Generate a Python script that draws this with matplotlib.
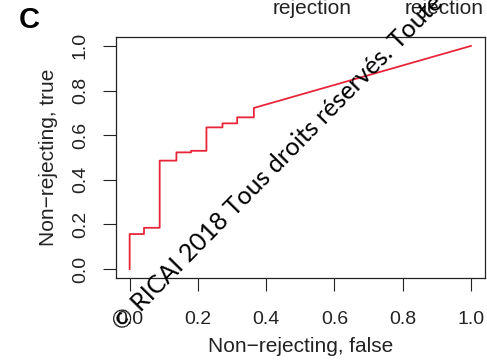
import matplotlib
matplotlib.use('Agg')
from matplotlib import pyplot as plt

# ROC-like step curve
fpr = [0.0, 0.0, 0.042, 0.042, 0.088, 0.088, 0.137, 0.137, 0.18, 0.18, 0.225, 0.225,
       0.272, 0.272, 0.315, 0.315, 0.364, 0.364, 1.0]
tpr = [0.0, 0.157, 0.157, 0.185, 0.185, 0.486, 0.486, 0.523, 0.523, 0.53, 0.53, 0.635,
       0.635, 0.653, 0.653, 0.68, 0.68, 0.722, 1.0]
ticks = [0.0, 0.2, 0.4, 0.6, 0.8, 1.0]
tick_labels = ['0.0', '0.2', '0.4', '0.6', '0.8', '1.0']

plt.rcParams['font.family'] = ['Liberation Sans', 'DejaVu Sans']
fig = plt.figure(figsize=(4.87, 3.61), dpi=100)
ax = fig.add_axes([0.2382, 0.2299, 0.7568, 0.6676])

ax.plot(fpr, tpr, color='#e8263a', lw=1.3)
ax.set_xlim(-0.04, 1.04)
ax.set_ylim(-0.04, 1.04)
ax.set_xticks(ticks)
ax.set_xticklabels(tick_labels)
ax.set_yticks(ticks)
ax.set_yticklabels(tick_labels, rotation=90, va='center')
ax.tick_params(direction='out', length=9.5, width=0.8, labelsize=14, colors='#222222')
ax.tick_params(axis='x', pad=14)
ax.tick_params(axis='y', pad=10)
for s in ax.spines.values():
    s.set_linewidth(0.9)
    s.set_color('#222222')
ax.set_xlabel('Non\u2212rejecting, false', fontsize=15, color='#222222', labelpad=7)
ax.set_ylabel('Non\u2212rejecting, true', fontsize=15, color='#222222', labelpad=10)

fig.text(29 / 487, 1 - 20 / 361, 'C', fontsize=21, fontweight='bold', ha='center', va='center')
fig.text(312 / 487, 1 - 8 / 361, 'rejection', fontsize=15, color='#222222', ha='center', va='center')
fig.text(444 / 487, 1 - 8 / 361, 'rejection', fontsize=15, color='#222222', ha='center', va='center')

# copyright watermark
fig.text(122 / 487, 1 - 332 / 361, '\u00a9 RICAI 2018 Tous droits r\u00e9serv\u00e9s. Toute',
         fontsize=18, family=['Lato', 'DejaVu Sans'], rotation=45.5,
         rotation_mode='anchor', ha='left', va='baseline', color='black')

fig.savefig('out.png', dpi=100)
